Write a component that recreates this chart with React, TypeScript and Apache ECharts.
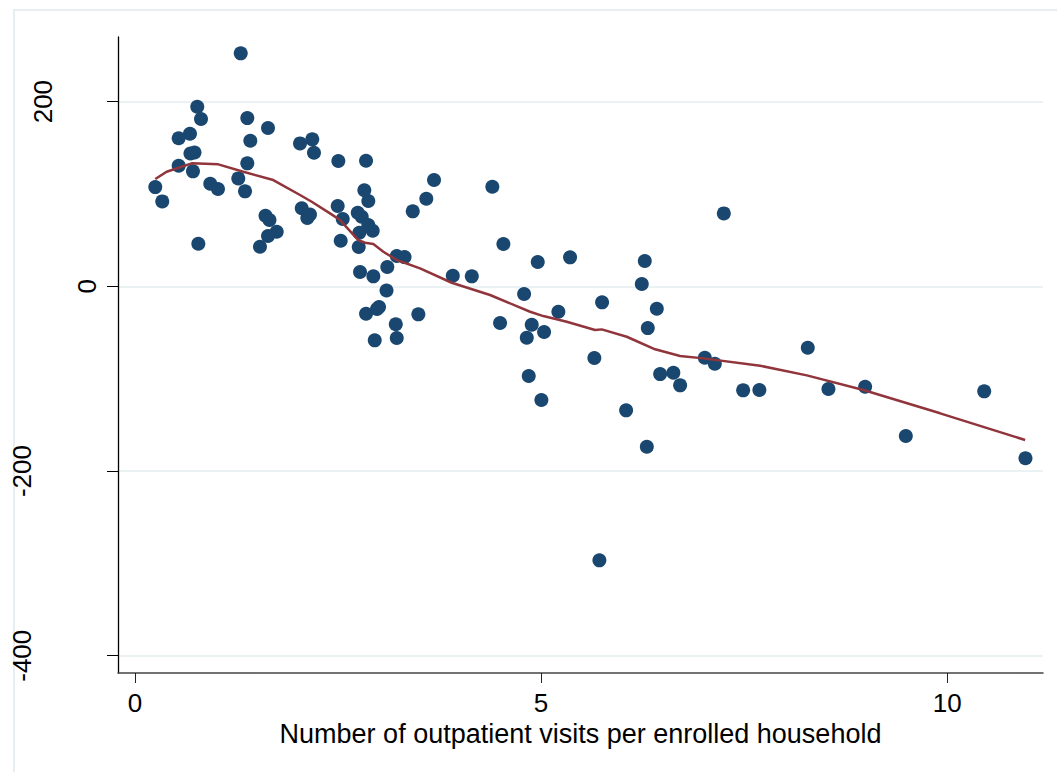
import React, { useEffect, useRef } from "react";
import * as echarts from "echarts";

// Scatter: outpatient visits per enrolled household (x) vs outcome (y)
const visitsX = [
  1.302, 0.767, 0.813, 1.383, 1.638, 0.538, 0.677, 1.42, 2.032, 2.183,
  2.204, 0.683, 0.733, 0.538, 1.383, 0.714, 0.25, 0.336, 0.927, 1.022,
  1.272, 1.355, 0.78, 1.607, 1.656, 1.745, 1.638, 1.539, 2.053, 2.155,
  2.122, 2.504, 2.845, 2.824, 2.873, 3.682, 3.587, 3.42, 2.496, 2.558,
  2.743, 2.792, 2.873, 2.927, 2.762, 2.533, 2.755, 3.223, 3.319, 3.107,
  2.771, 2.935, 3.097, 2.845, 2.98, 3.005, 3.489, 3.211, 3.223, 2.952,
  4.4, 4.536, 3.913, 4.147, 4.959, 5.357, 6.277, 6.24, 4.791, 5.751,
  6.425, 5.213, 4.495, 4.885, 5.037, 4.824, 6.314, 5.656, 4.848, 5.004,
  6.047, 6.466, 6.629, 6.712, 6.302, 7.25, 7.016, 7.139, 7.488, 7.688,
  8.284, 8.538, 8.99, 10.456, 9.491, 10.964, 5.718,
];
const outcomeY = [
  252.3, 194.5, 181.2, 182.2, 171.4, 160.3, 165.2, 157.7, 154.8, 159.2,
  144.7, 143.8, 144.9, 130.6, 133.2, 124.5, 107.5, 92.0, 111.1, 105.4,
  116.9, 102.9, 46.1, 76.4, 71.8, 59.1, 54.5, 42.9, 84.5, 77.7,
  74.0, 135.7, 136.0, 104.0, 92.4, 115.1, 94.9, 81.2, 87.0, 72.9,
  79.7, 75.4, 66.4, 60.2, 58.0, 49.4, 42.6, 32.8, 31.7, 20.9,
  15.5, 10.8, -4.5, -29.7, -24.6, -22.4, -30.3, -41.1, -56.0, -58.5,
  107.9, 45.8, 11.5, 10.8, 26.3, 31.4, 27.4, 2.5, -8.3, -17.3,
  -24.3, -27.5, -39.7, -41.6, -49.5, -55.7, -45.2, -77.6, -97.1, -123.1,
  -134.3, -95.0, -93.6, -107.2, -173.7, 79.0, -77.3, -83.8, -112.6, -112.3,
  -66.5, -111.2, -108.7, -113.7, -162.1, -186.2, -296.7,
];

// Smoothed (lowess) line
const lowessX = [
  0.25, 0.39, 0.698, 1.026, 1.334, 1.703, 2.032, 2.176, 2.401, 2.525,
  2.75, 2.833, 2.935, 3.058, 3.223, 3.51, 3.9, 4.372, 4.865, 5.028,
  5.316, 5.665, 5.747, 6.055, 6.404, 6.712, 6.999, 7.697, 8.272, 8.969,
  9.914, 10.96,
];
const lowessY = [
  116.2, 124.1, 133.2, 132.1, 124.1, 115.1, 98.9, 91.6, 79.0, 71.8,
  50.1, 47.2, 45.8, 37.5, 28.5, 19.5, 3.9, -9.4, -27.5, -32.2,
  -38.3, -47.3, -46.6, -54.6, -68.2, -75.5, -78.0, -86.0, -96.4, -112.3,
  -137.5, -166.4,
];

const xTicks = [0, 5, 10];
const yTicks = [-400, -200, 0, 200];
const xAxisTitle = "Number of outpatient visits per enrolled household";

const FONT = "'Liberation Sans', Arial, Helvetica, sans-serif";

export default function App() {
  const ref = useRef<HTMLDivElement>(null);

  useEffect(() => {
    if (!ref.current) return;
    const chart = echarts.init(ref.current, null, { renderer: "svg" });

    const scatterData = visitsX.map((x, i) => [x, outcomeY[i]]);
    const lineData = lowessX.map((x, i) => [x, lowessY[i]]);

    chart.setOption({
      animation: false,
      backgroundColor: "#ffffff",
      grid: { left: 118, right: 14, top: 37, bottom: 99, containLabel: false },
      xAxis: {
        type: "value",
        min: -0.209,
        max: 11.18,
        name: xAxisTitle,
        nameLocation: "middle",
        nameGap: 43,
        nameTextStyle: { fontSize: 27, color: "#000", fontFamily: FONT },
        axisLine: { show: true, onZero: false, lineStyle: { color: "#444", width: 1.5 } },
        axisTick: {
          show: true,
          customValues: xTicks,
          length: 10,
          lineStyle: { color: "#222", width: 1 },
        },
        axisLabel: {
          customValues: xTicks,
          fontSize: 26,
          color: "#000",
          fontFamily: FONT,
          margin: 17,
        },
        splitLine: { show: false },
      },
      yAxis: {
        type: "value",
        min: -418.7,
        max: 270,
        axisLine: { show: true, onZero: false, lineStyle: { color: "#000", width: 1.3 } },
        axisTick: {
          show: true,
          customValues: yTicks,
          length: 11,
          lineStyle: { color: "#000", width: 1 },
        },
        axisLabel: { show: false, customValues: yTicks },
        splitLine: { show: true, lineStyle: { color: "#eaf2f3", width: 2 } },
      },
      series: [
        {
          type: "scatter",
          data: scatterData,
          symbol: "circle",
          symbolSize: 14,
          itemStyle: { color: "#1a476f", opacity: 1 },
          z: 2,
        },
        {
          type: "line",
          data: lineData,
          showSymbol: false,
          symbol: "none",
          lineStyle: { color: "#90353b", width: 2.5 },
          z: 3,
        },
      ],
    });

    const labelX: Record<string, number> = { "200": 43, "0": 87, "-200": 22, "-400": 22 };
    const yLabels = yTicks.map((v) => {
      const py = chart.convertToPixel({ yAxisIndex: 0 }, v) as number;
      return {
        type: "text",
        x: labelX[String(v)],
        y: py,
        rotation: Math.PI / 2,
        style: {
          text: String(v),
          fontSize: 26,
          fontFamily: FONT,
          fill: "#000",
          align: "center",
          verticalAlign: "middle",
        },
        silent: true,
      };
    });

    chart.setOption({
      graphic: [
        {
          type: "rect",
          shape: { x: 14, y: 10, width: 1100, height: 1000 },
          style: { fill: "none", stroke: "#e6eef1", lineWidth: 2 },
          z: -10,
          silent: true,
        },
        ...yLabels,
      ],
    });

    return () => chart.dispose();
  }, []);

  return (
    <div
      ref={ref}
      style={{ position: "fixed", left: 0, top: 0, width: 1057, height: 772 }}
    />
  );
}
